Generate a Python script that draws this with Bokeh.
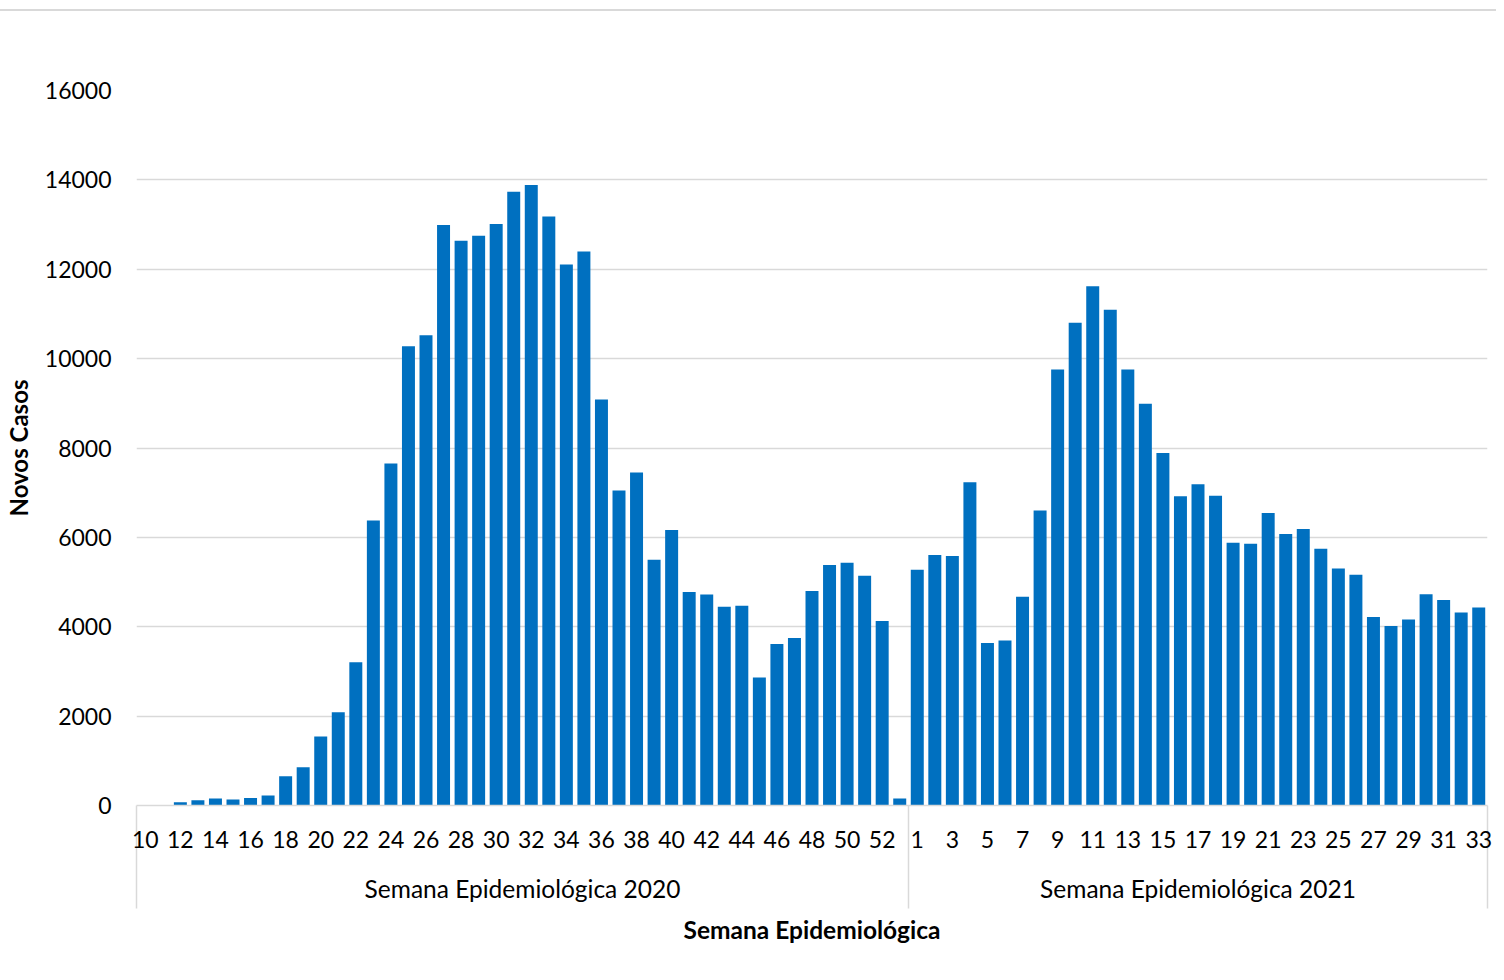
from bokeh.plotting import figure
from bokeh.models import FixedTicker, LinearAxis, Range1d
from bokeh.embed import file_html
from bokeh.resources import INLINE

# ---- data ----
weeks_2020 = list(range(10, 54))
weeks_2021 = list(range(1, 34))
cases_2020 = [0, 0, 75, 120, 157, 134, 170, 224, 656, 857, 1544, 2088, 3207, 6377,
              7653, 10275, 10521, 12993, 12635, 12747, 13015, 13732, 13888, 13179,
              12105, 12396, 9083, 7047, 7450, 5501, 6166, 4776, 4723, 4447, 4470,
              2864, 3613, 3747, 4799, 5383, 5434, 5143, 4128, 157]
cases_2021 = [5277, 5606, 5584, 7233, 3635, 3694, 4671, 6604, 9754, 10805, 11617,
              11096, 9754, 8993, 7888, 6919, 7188, 6933, 5881, 5859, 6546, 6076,
              6188, 5747, 5306, 5166, 4217, 4016, 4163, 4730, 4596, 4320, 4429]
group_labels = ["Semana Epidemiológica 2020", "Semana Epidemiológica 2021"]
y_ticks = [0, 2000, 4000, 6000, 8000, 10000, 12000, 14000, 16000]

FONT = "Lato"
n20, n21 = len(weeks_2020), len(weeks_2021)
n = n20 + n21
x = list(range(n))
cases = cases_2020 + cases_2021

tick_pos, tick_lab = [], []
for i, w in enumerate(weeks_2020):
    if w % 2 == 0:
        tick_pos.append(i); tick_lab.append(str(w))
for j, w in enumerate(weeks_2021):
    if w % 2 == 1:
        tick_pos.append(n20 + j); tick_lab.append(str(w))
edges = [-0.5, n20 - 0.5, n - 0.5]
centers = [(edges[0] + edges[1]) / 2, (edges[1] + edges[2]) / 2]

p = figure(width=1496, height=960, output_backend="svg", toolbar_location=None,
           x_range=Range1d(-0.5, n - 0.5), y_range=Range1d(0, 16000),
           x_axis_type=None, min_border_left=136, min_border_right=9,
           min_border_top=79, min_border_bottom=166)
p.outline_line_color = None
p.background_fill_color = "white"
p.border_fill_color = "white"
p.styles = {"border-top": "2px solid #d9d9d9", "margin-top": "9px"}

p.vbar(x=x, top=cases, width=0.74, fill_color="#0070C0", line_color=None)

# y axis
yax = p.yaxis[0]
yax.ticker = FixedTicker(ticks=y_ticks)
yax.axis_line_color = None
yax.major_tick_line_color = None
yax.minor_tick_line_color = None
yax.major_label_text_font = FONT
yax.major_label_text_font_size = "23px"
yax.major_label_text_color = "#000000"
yax.major_label_standoff = 19
yax.axis_label = "Novos Casos"
yax.axis_label_text_font = FONT
yax.axis_label_text_font_size = "24px"
yax.axis_label_text_font_style = "bold"
yax.axis_label_text_color = "#000000"
yax.axis_label_standoff = 9

p.ygrid.ticker = FixedTicker(ticks=y_ticks)
p.ygrid.grid_line_color = "#d9d9d9"
p.ygrid.grid_line_width = 1.5
p.xgrid.visible = False

# x axis with week labels and group separators (minor ticks)
xax = LinearAxis(ticker=FixedTicker(ticks=tick_pos, minor_ticks=edges),
                 major_label_overrides={pos: lab for pos, lab in zip(tick_pos, tick_lab)})
xax.axis_line_color = "#d9d9d9"
xax.axis_line_width = 1.5
xax.major_tick_line_color = None
xax.major_tick_in = 0
xax.major_tick_out = 0
xax.minor_tick_in = 0
xax.minor_tick_out = 103
xax.minor_tick_line_color = "#d9d9d9"
xax.minor_tick_line_width = 1.5
xax.major_label_text_font = FONT
xax.major_label_text_font_size = "23px"
xax.major_label_text_color = "#000000"
xax.major_label_standoff = -78
p.add_layout(xax, "below")

# group labels axis
gax = LinearAxis(ticker=FixedTicker(ticks=centers),
                 major_label_overrides={c: g for c, g in zip(centers, group_labels)})
gax.axis_line_color = None
gax.major_tick_line_color = None
gax.minor_tick_line_color = None
gax.major_tick_in = 0
gax.major_tick_out = 0
gax.major_label_text_font = FONT
gax.major_label_text_font_size = "24.5px"
gax.major_label_text_color = "#000000"
gax.major_label_standoff = 23
gax.axis_label = "Semana Epidemiológica"
gax.axis_label_text_font = FONT
gax.axis_label_text_font_size = "24.5px"
gax.axis_label_text_font_style = "bold"
gax.axis_label_text_color = "#000000"
gax.axis_label_standoff = 9
p.add_layout(gax, "below")

open("out.html", "w").write(file_html(p, INLINE))
